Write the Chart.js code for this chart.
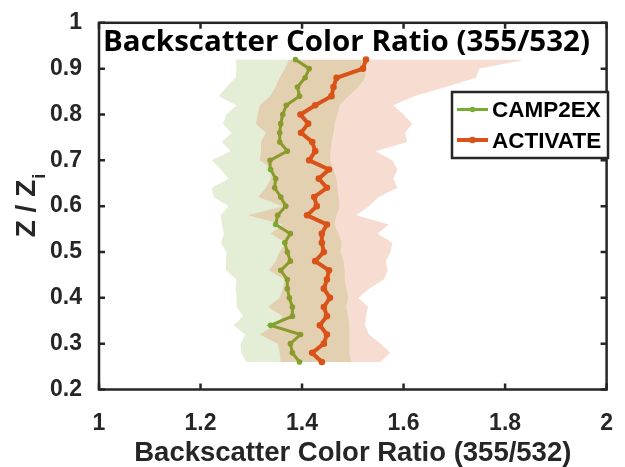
<!DOCTYPE html>
<html>
<head>
<meta charset="utf-8">
<script src="https://cdn.jsdelivr.net/npm/chart.js@4.4.0/dist/chart.umd.min.js"></script>
<style>
  html, body { margin: 0; padding: 0; background: #fff; }
  #chart { display: block; }
</style>
</head>
<body>
<canvas id="chart" width="625" height="467"></canvas>
<script>
// normalised height levels (Z / Zi), bottom to top
const levels = [0.26, 0.28, 0.30, 0.32, 0.34, 0.36, 0.38, 0.40, 0.42, 0.44, 0.46, 0.48,
                0.50, 0.52, 0.54, 0.56, 0.58, 0.60, 0.62, 0.64, 0.66, 0.68, 0.70, 0.72,
                0.74, 0.76, 0.78, 0.80, 0.82, 0.84, 0.86, 0.88, 0.90, 0.92];

// CAMP2EX: mean and shaded band edges
const camp2exMean = [1.395, 1.381, 1.377, 1.397, 1.338, 1.381, 1.381, 1.375, 1.371, 1.371, 1.358, 1.377,
                     1.371, 1.366, 1.377, 1.348, 1.352, 1.368, 1.358, 1.346, 1.348, 1.338, 1.337, 1.371,
                     1.356, 1.356, 1.358, 1.362, 1.369, 1.395, 1.391, 1.406, 1.414, 1.387];
const camp2exLow  = [1.290, 1.280, 1.279, 1.288, 1.265, 1.284, 1.271, 1.271, 1.269, 1.271, 1.250, 1.250,
                     1.251, 1.240, 1.246, 1.242, 1.240, 1.255, 1.226, 1.222, 1.255, 1.240, 1.222, 1.259,
                     1.242, 1.261, 1.244, 1.251, 1.271, 1.236, 1.251, 1.269, 1.271, 1.269];
const camp2exHigh = [1.497, 1.493, 1.493, 1.493, 1.493, 1.491, 1.487, 1.491, 1.487, 1.484, 1.484, 1.482,
                     1.476, 1.478, 1.472, 1.464, 1.468, 1.474, 1.472, 1.470, 1.468, 1.462, 1.455, 1.456,
                     1.458, 1.462, 1.464, 1.470, 1.474, 1.491, 1.511, 1.524, 1.526, 1.516];

// ACTIVATE: mean and shaded band edges
const activateMean = [1.439, 1.420, 1.443, 1.449, 1.435, 1.449, 1.443, 1.455, 1.443, 1.449, 1.453, 1.426,
                      1.443, 1.439, 1.439, 1.449, 1.410, 1.429, 1.424, 1.449, 1.433, 1.453, 1.414, 1.426,
                      1.420, 1.398, 1.412, 1.397, 1.426, 1.458, 1.462, 1.468, 1.520, 1.526];
const activateLow  = [1.358, 1.356, 1.352, 1.317, 1.346, 1.362, 1.333, 1.356, 1.362, 1.366, 1.335, 1.348,
                      1.356, 1.368, 1.338, 1.362, 1.294, 1.362, 1.313, 1.329, 1.338, 1.342, 1.317, 1.319,
                      1.319, 1.329, 1.309, 1.313, 1.317, 1.337, 1.348, 1.356, 1.366, 1.375];
const activateHigh = [1.555, 1.574, 1.555, 1.532, 1.524, 1.526, 1.530, 1.511, 1.532, 1.561, 1.569, 1.565,
                      1.574, 1.578, 1.549, 1.571, 1.507, 1.532, 1.551, 1.588, 1.580, 1.588, 1.578, 1.545,
                      1.607, 1.603, 1.617, 1.600, 1.580, 1.621, 1.683, 1.743, 1.749, 1.841];

const xTicks = [1, 1.2, 1.4, 1.6, 1.8, 2];
const yTicks = [0.2, 0.3, 0.4, 0.5, 0.6, 0.7, 0.8, 0.9, 1];

const titleText = 'Backscatter Color Ratio (355/532)';
const xTitle = 'Backscatter Color Ratio (355/532)';

const AXIS = '#262626';
const GREEN = '#77AC30';
const RED = '#D95319';
const SANS = '"Liberation Sans", Arial, sans-serif';

const pts = xs => xs.map((x, i) => ({ x: x, y: levels[i] }));
const edge = xs => ({ data: pts(xs), borderWidth: 0, pointRadius: 0, pointHoverRadius: 0, fill: false });

// frame, inward ticks, titles and legend, drawn over the plot
const decorations = {
    id: 'decorations',
    afterDraw(chart) {
        const ctx = chart.ctx;
        const a = chart.chartArea;
        const sx = chart.scales.x, sy = chart.scales.y;
        ctx.save();

        // box with ticks on all four sides
        ctx.strokeStyle = AXIS;
        ctx.lineWidth = 2.5;
        ctx.strokeRect(a.left, a.top, a.right - a.left, a.bottom - a.top);
        ctx.beginPath();
        xTicks.forEach(v => {
            const px = sx.getPixelForValue(v);
            ctx.moveTo(px, a.bottom); ctx.lineTo(px, a.bottom - 6);
            ctx.moveTo(px, a.top); ctx.lineTo(px, a.top + 6);
        });
        yTicks.forEach(v => {
            const py = sy.getPixelForValue(v);
            ctx.moveTo(a.left, py); ctx.lineTo(a.left + 6, py);
            ctx.moveTo(a.right, py); ctx.lineTo(a.right - 6, py);
        });
        ctx.stroke();

        // title inside the axes, condensed to the reference width
        ctx.fillStyle = '#000';
        ctx.font = 'bold 29px "Open Sans", sans-serif';
        ctx.textBaseline = 'alphabetic';
        ctx.textAlign = 'left';
        const tw = ctx.measureText(titleText).width;
        ctx.save();
        ctx.translate(a.left + 4, 51);
        ctx.scale(487 / tw, 1);
        ctx.fillText(titleText, 0, 0);
        ctx.restore();

        // x axis title
        ctx.fillStyle = AXIS;
        ctx.font = 'bold 27.5px ' + SANS;
        ctx.textAlign = 'center';
        ctx.fillText(xTitle, (a.left + a.right) / 2, 461);

        // y axis title: Z / Z with subscript i
        ctx.save();
        ctx.translate(35, 206);
        ctx.rotate(-Math.PI / 2);
        ctx.textAlign = 'left';
        ctx.font = 'bold 28px ' + SANS;
        const main = 'Z / Z';
        const wm = ctx.measureText(main).width;
        ctx.font = 'bold 18px ' + SANS;
        const ws = ctx.measureText('i').width;
        const x0 = -(wm + ws) / 2;
        ctx.font = 'bold 28px ' + SANS;
        ctx.fillText(main, x0, 0);
        ctx.font = 'bold 18px ' + SANS;
        ctx.fillText('i', x0 + wm + 1, 10);
        ctx.restore();

        // legend box
        const lx = 452, ly = 92, lw = 156, lh = 66;
        ctx.fillStyle = '#fff';
        ctx.fillRect(lx, ly, lw, lh);
        ctx.strokeStyle = AXIS;
        ctx.lineWidth = 2.5;
        ctx.strokeRect(lx, ly, lw, lh);
        const entries = [chart.data.datasets[3], chart.data.datasets[0]];
        entries.forEach((ds, i) => {
            const cy = 109.5 + i * 30.5;
            ctx.strokeStyle = ds.borderColor;
            ctx.lineWidth = ds.borderWidth;
            ctx.beginPath();
            ctx.moveTo(457, cy); ctx.lineTo(488, cy);
            ctx.stroke();
            ctx.fillStyle = ds.borderColor;
            ctx.beginPath();
            ctx.arc(472.5, cy, ds.pointRadius, 0, Math.PI * 2);
            ctx.fill();
            ctx.fillStyle = '#000';
            ctx.font = 'bold 22.5px ' + SANS;
            ctx.textAlign = 'left';
            ctx.textBaseline = 'middle';
            ctx.fillText(ds.label, 492, cy + 1.5);
        });
        ctx.restore();
    }
};

new Chart(document.getElementById('chart'), {
    type: 'line',
    data: {
        datasets: [
            { label: 'ACTIVATE', data: pts(activateMean), borderColor: RED, backgroundColor: RED,
              borderWidth: 4, pointRadius: 3.3, pointBorderWidth: 0, fill: false, tension: 0 },
            Object.assign(edge(activateLow), { fill: '+1', backgroundColor: 'rgba(217, 83, 25, 0.2)' }),
            edge(activateHigh),
            { label: 'CAMP2EX', data: pts(camp2exMean), borderColor: GREEN, backgroundColor: GREEN,
              borderWidth: 3, pointRadius: 2.8, pointBorderWidth: 0, fill: false, tension: 0 },
            Object.assign(edge(camp2exLow), { fill: '+1', backgroundColor: 'rgba(119, 172, 48, 0.2)' }),
            edge(camp2exHigh)
        ]
    },
    options: {
        responsive: false,
        animation: false,
        indexAxis: 'y',
        layout: { padding: { left: 0, right: 9, top: 21, bottom: 0 } },
        plugins: {
            legend: { display: false },
            tooltip: { enabled: false },
            title: { display: false }
        },
        scales: {
            x: {
                type: 'linear',
                position: 'bottom',
                min: 1,
                max: 2,
                grid: { display: false },
                border: { display: false },
                ticks: {
                    font: { family: SANS, size: 23, weight: 'bold' },
                    color: AXIS,
                    padding: 12,
                    callback: v => String(Math.round(v * 10) / 10)
                },
                afterBuildTicks: s => { s.ticks = xTicks.map(v => ({ value: v })); },
                afterFit: s => { s.height = 77.5; }
            },
            y: {
                type: 'linear',
                position: 'left',
                min: 0.2,
                max: 1,
                grid: { display: false },
                border: { display: false },
                ticks: {
                    font: { family: SANS, size: 23, weight: 'bold' },
                    color: AXIS,
                    padding: 9,
                    callback: v => String(Math.round(v * 10) / 10)
                },
                afterBuildTicks: s => { s.ticks = yTicks.map(v => ({ value: v })); },
                afterFit: s => { s.width = 99; }
            }
        }
    },
    plugins: [decorations]
});
</script>
</body>
</html>
